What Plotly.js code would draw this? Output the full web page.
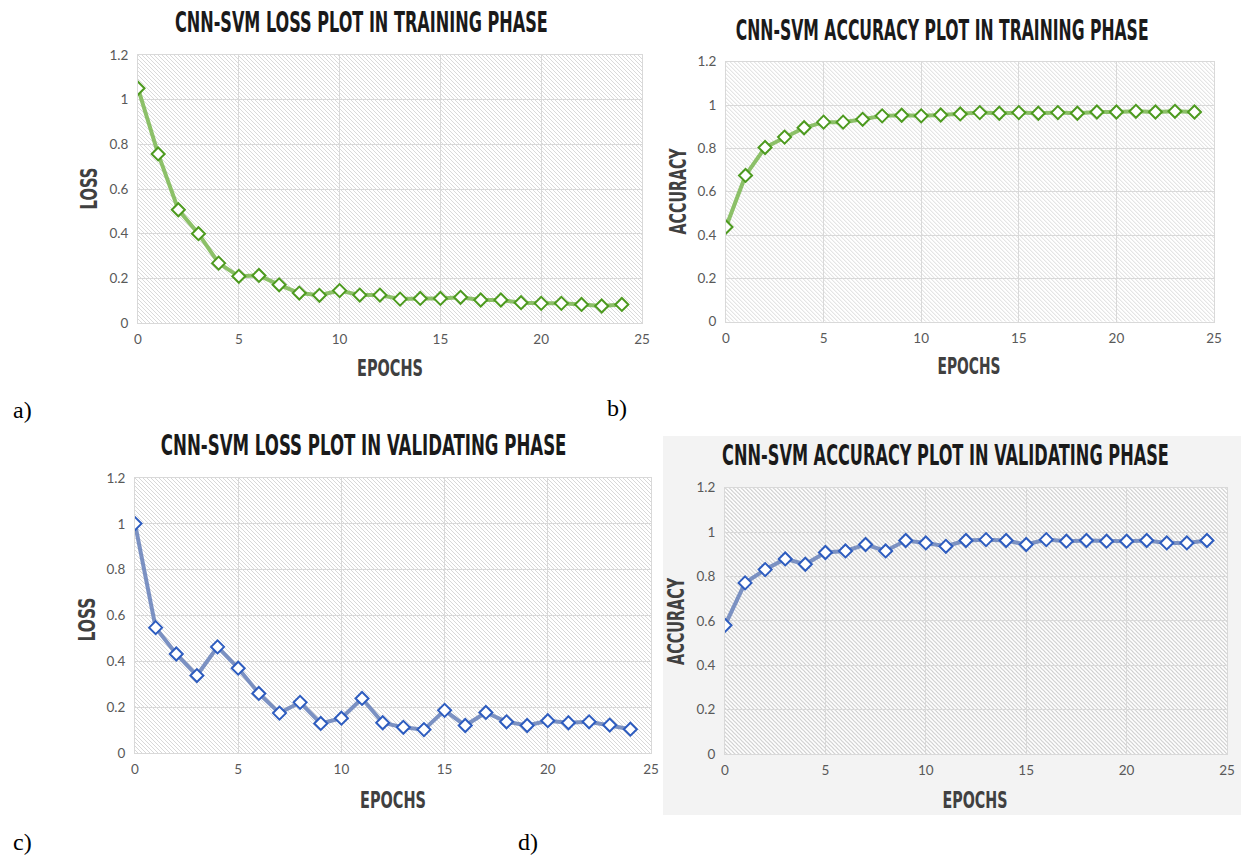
<!DOCTYPE html>
<html>
<head>
<meta charset="utf-8">
<script src="https://cdn.plot.ly/plotly-3.0.1.min.js"></script>
<style>
html,body{margin:0;padding:0;background:#ffffff;}
#chart{width:1244px;height:855px;}
</style>
</head>
<body>
<div id="chart"></div>
<script>
// ---------- data ----------
const epochs = [0,1,2,3,4,5,6,7,8,9,10,11,12,13,14,15,16,17,18,19,20,21,22,23,24];
const trainLoss = [1.051,0.757,0.507,0.400,0.268,0.209,0.213,0.171,0.134,0.124,0.145,0.125,0.125,0.107,0.110,0.110,0.115,0.103,0.103,0.091,0.088,0.088,0.083,0.076,0.083];
const trainAcc  = [0.437,0.675,0.804,0.852,0.895,0.921,0.921,0.934,0.950,0.953,0.950,0.954,0.959,0.965,0.962,0.965,0.962,0.965,0.962,0.968,0.968,0.971,0.968,0.971,0.968];
const valLoss   = [1.001,0.547,0.432,0.338,0.463,0.370,0.260,0.174,0.221,0.129,0.152,0.238,0.132,0.112,0.102,0.186,0.120,0.177,0.136,0.120,0.141,0.132,0.136,0.122,0.104];
const valAcc    = [0.580,0.771,0.831,0.879,0.855,0.908,0.915,0.944,0.915,0.962,0.951,0.936,0.962,0.966,0.962,0.944,0.966,0.959,0.962,0.959,0.959,0.962,0.951,0.951,0.962];

const panelTitles = [
  "CNN-SVM LOSS PLOT IN TRAINING PHASE",
  "CNN-SVM ACCURACY PLOT IN TRAINING PHASE",
  "CNN-SVM LOSS PLOT IN VALIDATING PHASE",
  "CNN-SVM ACCURACY PLOT IN VALIDATING PHASE"
];
const yTitles = ["LOSS", "ACCURACY", "LOSS", "ACCURACY"];
const xTitle = "EPOCHS";
const panelLetters = ["a)", "b)", "c)", "d)"];

// ---------- layout geometry (pixels) ----------
const W = 1244, H = 855;
const px = v => v / W;
const py = v => 1 - v / H;

const boxes = [
  {x0:138, x1:642,  y0:55,    y1:323},
  {x0:726, x1:1214, y0:61.7,  y1:321.7},
  {x0:135, x1:651,  y0:478,   y1:753},
  {x0:725, x1:1227, y0:487.7, y1:754}
];
const hatchCols = ["#dadada", "#dadada", "#d8d8d8", "#cdcdcd"];

const GREEN_LINE = "#8cc068", GREEN_MK = "#4d9a1f";
const BLUE_LINE = "#7b91c2", BLUE_MK = "#2d5cbf";

const series = [trainLoss, trainAcc, valLoss, valAcc];
const lineCols = [GREEN_LINE, GREEN_LINE, BLUE_LINE, BLUE_LINE];
const mkCols = [GREEN_MK, GREEN_MK, BLUE_MK, BLUE_MK];

const titleFont = "'Liberation Sans Narrow', 'Arial Narrow', 'DejaVu Sans Condensed', sans-serif";
const tickFont = {family: "Lato, 'Open Sans', sans-serif", size: 13.5, color: "#595959"};

function hatch(w, h, col) {
  const svg = `<svg xmlns="http://www.w3.org/2000/svg" width="${w}" height="${h}" viewBox="0 0 ${w} ${h}" preserveAspectRatio="none">` +
    `<defs><pattern id="p" patternUnits="userSpaceOnUse" width="4" height="4">` +
    `<rect width="4" height="4" fill="#ffffff"/>` +
    `<path d="M-1,3 l2,2 M0,0 l4,4 M3,-1 l2,2" stroke="${col}" stroke-width="1"/>` +
    `</pattern></defs><rect width="${w}" height="${h}" fill="url(#p)"/></svg>`;
  return "data:image/svg+xml;utf8," + encodeURIComponent(svg);
}

const traces = [];
const layout = {
  width: W, height: H,
  margin: {l:0, r:0, t:0, b:0},
  paper_bgcolor: "#ffffff",
  plot_bgcolor: "rgba(0,0,0,0)",
  showlegend: false,
  annotations: [],
  images: [],
  shapes: [
    {type:"rect", xref:"paper", yref:"paper", x0:px(663), x1:px(1241), y0:py(815), y1:py(436),
     fillcolor:"#f3f3f3", line:{width:0}, layer:"below"}
  ]
};

for (let i = 0; i < 4; i++) {
  const b = boxes[i];
  const sx = i === 0 ? "" : String(i + 1);
  traces.push({
    type: "scatter", mode: "lines+markers",
    x: epochs, y: series[i],
    xaxis: "x" + sx, yaxis: "y" + sx,
    line: {color: lineCols[i], width: 4},
    marker: {symbol: "diamond", size: 10, color: "#ffffff", line: {color: mkCols[i], width: 2}},
    hoverinfo: "x+y"
  });
  const common = {
    showgrid: true, gridcolor: "#d9d9d9", gridwidth: 1,
    zeroline: false, showline: true, linecolor: "#d9d9d9", linewidth: 1, mirror: true,
    ticks: "", tickfont: tickFont, fixedrange: true
  };
  layout["xaxis" + sx] = Object.assign({}, common, {
    domain: [px(b.x0), px(b.x1)], range: [0, 25], dtick: 5, tick0: 0,
    anchor: "y" + sx, ticklabelstandoff: 4
  });
  layout["yaxis" + sx] = Object.assign({}, common, {
    domain: [py(b.y1), py(b.y0)], range: [0, 1.2], dtick: 0.2, tick0: 0,
    anchor: "x" + sx, ticklabelstandoff: 6
  });
  layout.images.push({
    source: hatch(Math.round(b.x1 - b.x0), Math.round(b.y1 - b.y0), hatchCols[i]),
    xref: "x" + sx + " domain", yref: "y" + sx + " domain",
    x: 0, y: 1, sizex: 1, sizey: 1, xanchor: "left", yanchor: "top",
    sizing: "stretch", layer: "below"
  });
}

const titlePos = [[361, 22], [942, 31], [363, 445], [946, 455]];
const titleW = [373, 413, 406, 447];
const yTitlePos = [[89, 189], [678, 191], [87, 620], [676, 621]];
const yTitleW = [42, 87, 44, 88];
const xTitlePos = [[390, 368], [969, 366], [393, 800], [975, 800]];
const xTitleW = [66, 63, 66, 65];
const letterPos = [[22, 410], [617, 408], [22, 842], [528, 842]];

// per-annotation fitting info (index-aligned with layout.annotations)
const fits = [];

for (let i = 0; i < 4; i++) {
  layout.annotations.push({
    text: "<b>" + panelTitles[i] + "</b>", xref: "paper", yref: "paper",
    x: px(titlePos[i][0]), y: py(titlePos[i][1]), xanchor: "center", yanchor: "middle",
    showarrow: false, font: {family: titleFont, size: 22, color: "#1a1a1a"}
  });
  fits.push({w: titleW[i], sy: 1.25});
  layout.annotations.push({
    text: "<b>" + yTitles[i] + "</b>", xref: "paper", yref: "paper",
    x: px(yTitlePos[i][0]), y: py(yTitlePos[i][1]), xanchor: "center", yanchor: "middle",
    textangle: -90, showarrow: false, font: {family: titleFont, size: 20, color: "#404040"}
  });
  fits.push({w: yTitleW[i], sy: 1.15});
  layout.annotations.push({
    text: "<b>" + xTitle + "</b>", xref: "paper", yref: "paper",
    x: px(xTitlePos[i][0]), y: py(xTitlePos[i][1]), xanchor: "center", yanchor: "middle",
    showarrow: false, font: {family: titleFont, size: 20, color: "#404040"}
  });
  fits.push({w: xTitleW[i], sy: 1.15});
  layout.annotations.push({
    text: panelLetters[i], xref: "paper", yref: "paper",
    x: px(letterPos[i][0]), y: py(letterPos[i][1]), xanchor: "center", yanchor: "middle",
    showarrow: false, font: {family: "'Liberation Serif', 'Times New Roman', serif", size: 24, color: "#000000"}
  });
  fits.push(null);
}

Plotly.newPlot("chart", traces, layout, {displayModeBar: false, staticPlot: true}).then(gd => {
  // condense the bold headings to the narrow display face of the original
  gd.querySelectorAll("g.annotation").forEach(g => {
    const idx = +g.getAttribute("data-index");
    const f = fits[idx];
    if (!f) return;
    const t = g.querySelector("text.annotation-text");
    if (!t) return;
    const bb = t.getBBox();
    if (!bb.width) return;
    const sx = f.w / bb.width, sy = f.sy;
    const cx = bb.x + bb.width / 2, cy = bb.y + bb.height / 2;
    const prev = t.getAttribute("transform") || "";
    t.setAttribute("transform", `${prev} translate(${cx},${cy}) scale(${sx},${sy}) translate(${-cx},${-cy})`);
  });
});
</script>
</body>
</html>
